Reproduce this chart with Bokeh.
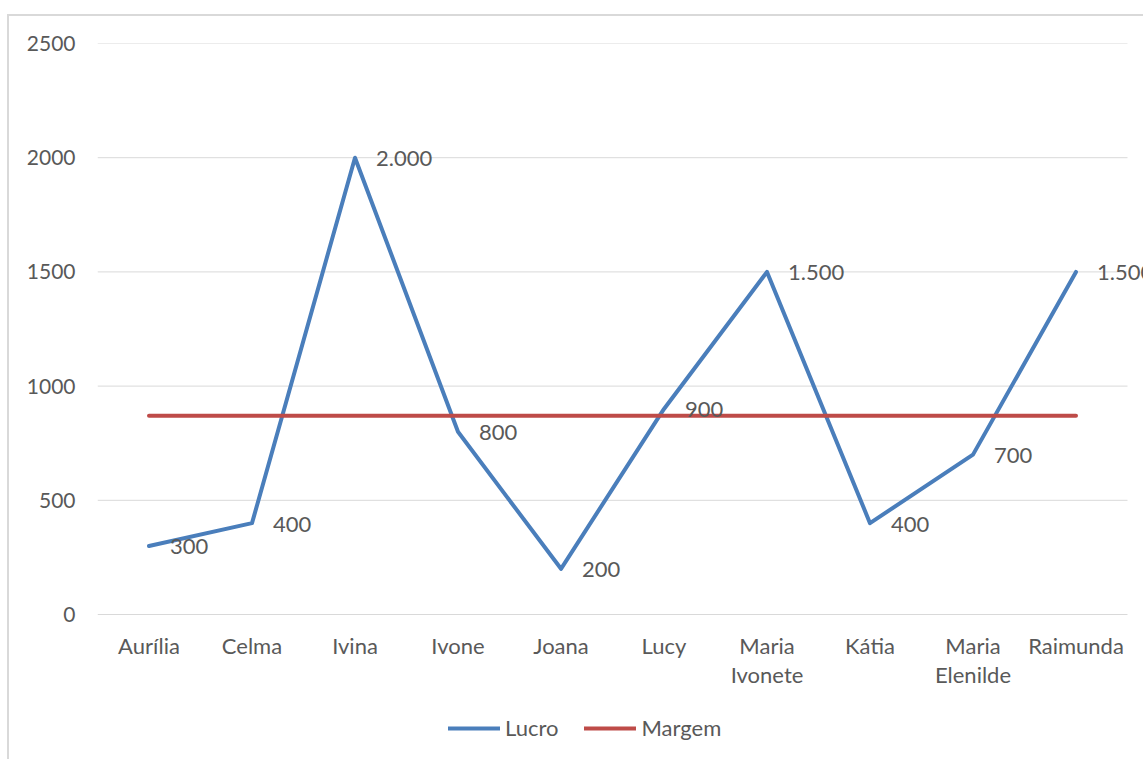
from bokeh.plotting import figure
from bokeh.models import (ColumnDataSource, Range1d, Legend, LegendItem,
                          FixedTicker)
from bokeh.core.properties import value
from bokeh.embed import file_html
from bokeh.resources import INLINE

# Lucro por vendedora e a margem (média) traçada como linha constante
vendedoras = ["Aurília", "Celma", "Ivina", "Ivone", "Joana", "Lucy",
              "Maria\nIvonete", "Kátia", "Maria\nElenilde", "Raimunda"]
lucro = [300, 400, 2000, 800, 200, 900, 1500, 400, 700, 1500]
margem = [870, 870, 870, 870, 870, 870, 870, 870, 870, 870]
y_ticks = [0, 500, 1000, 1500, 2000, 2500]

FONT = "Lato"
TXT = "#595959"
BLUE = "#4a7ebb"
RED = "#be4b48"
GRID = "#d9d9d9"


def fmt_br(v):
    return f"{v:,}".replace(",", ".")


pos = list(range(len(vendedoras)))
src = ColumnDataSource(dict(
    x=pos, lucro=lucro, margem=margem,
    rot=[fmt_br(v) for v in lucro],
))

# a área de desenho desce até o rodapé, para abrigar a legenda;
# o eixo das categorias fica preso em y = 0
p = figure(
    width=1136, height=745,
    x_range=Range1d(-0.5, 9.6748), y_range=Range1d(-643.6, 2500),
    output_backend="svg", toolbar_location=None,
    min_border_left=88, min_border_right=0,
    min_border_top=27, min_border_bottom=0,
    margin=(14, 0, 0, 7),
    styles={"border-left": f"2px solid {GRID}", "border-top": f"2px solid {GRID}"},
)
p.outline_line_color = None
p.background_fill_color = "white"
p.border_fill_color = "white"

# eixos
p.xaxis.ticker = FixedTicker(ticks=pos)
p.xaxis.major_label_overrides = {i: n for i, n in zip(pos, vendedoras)}
p.xaxis.fixed_location = 0
p.yaxis.ticker = FixedTicker(ticks=y_ticks)
for ax in (p.xaxis[0], p.yaxis[0]):
    ax.axis_line_color = None
    ax.major_tick_line_color = None
    ax.minor_tick_line_color = None
    ax.major_tick_out = 0
    ax.major_tick_in = 0
    ax.minor_tick_out = 0
    ax.major_label_text_font = FONT
    ax.major_label_text_color = TXT
p.xaxis.major_label_text_font_size = "22px"
p.xaxis.major_label_text_line_height = 1.1
p.yaxis.major_label_text_font_size = "21px"
p.yaxis.major_label_standoff = 22
p.xaxis.major_label_standoff = 17

# linhas de grade horizontais só sobre a área das categorias
p.xgrid.grid_line_color = None
p.ygrid.grid_line_color = None
p.segment(x0=-0.5, x1=len(vendedoras) - 0.5, y0=y_ticks, y1=y_ticks,
          line_color=GRID, line_width=1)

r_lucro = p.line("x", "lucro", source=src, line_color=BLUE, line_width=4,
                 line_join="round", line_cap="round")
r_margem = p.line("x", "margem", source=src, line_color=RED, line_width=4,
                  line_join="round", line_cap="round")

# rótulos de dados à direita de cada ponto
p.text("x", "lucro", text="rot", source=src, x_offset=21, y_offset=1,
       text_align="left", text_baseline="middle", text_font_size="22px",
       text_color=TXT, text_font=value(FONT))

legend = Legend(
    items=[LegendItem(label="Lucro", renderers=[r_lucro]),
           LegendItem(label="Margem", renderers=[r_margem])],
    orientation="horizontal", location=(351, 20),
    glyph_width=52, glyph_height=26, label_standoff=5, spacing=26,
    padding=0, margin=0, border_line_color=None, background_fill_alpha=0,
    label_text_font=FONT, label_text_font_size="22px", label_text_color=TXT,
)
p.add_layout(legend, "center")

open("out.html", "w").write(file_html(p, INLINE))
